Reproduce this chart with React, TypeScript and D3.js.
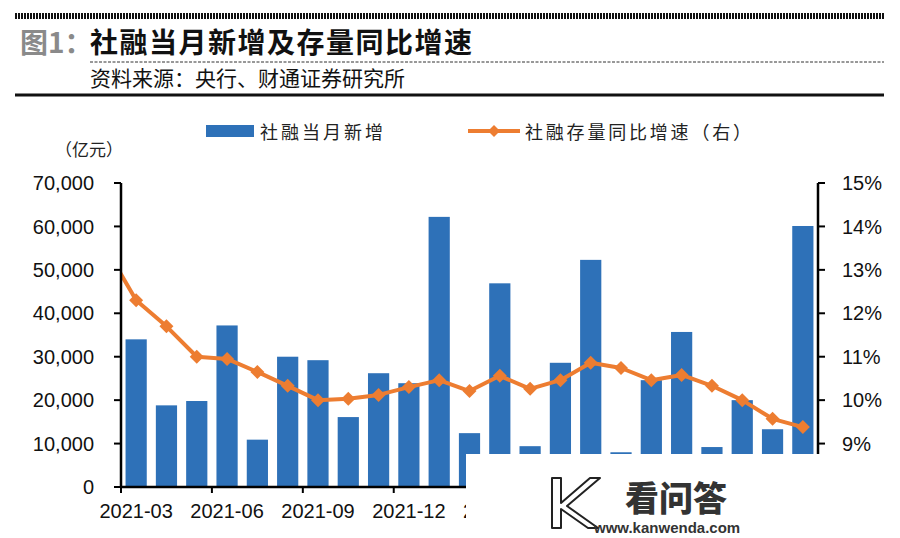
import React from "react";
import * as d3 from "d3";

const months = [
  "2021-03", "2021-04", "2021-05", "2021-06", "2021-07", "2021-08", "2021-09", "2021-10",
  "2021-11", "2021-12", "2022-01", "2022-02", "2022-03", "2022-04", "2022-05", "2022-06",
  "2022-07", "2022-08", "2022-09", "2022-10", "2022-11", "2022-12", "2023-01",
];
// 社融当月新增 (亿元)
const newFinancing = [
  34000, 18800, 19800, 37200, 10900, 30000, 29200, 16100, 26200, 23900, 62200, 12400,
  46900, 9400, 28600, 52300, 8000, 24600, 35700, 9200, 20000, 13300, 60100,
];
// 社融存量同比增速 (%), preceded by the clipped prior month 2021-02
const priorMonthGrowth = 13.5;
const stockGrowth = [
  12.3, 11.7, 11.0, 10.95, 10.65, 10.33, 10.0, 10.03, 10.12, 10.3, 10.46, 10.21,
  10.56, 10.26, 10.46, 10.86, 10.74, 10.46, 10.58, 10.33, 10.0, 9.57, 9.38,
];
const leftTicks = [0, 10000, 20000, 30000, 40000, 50000, 60000, 70000];
const rightTicks = [9, 10, 11, 12, 13, 14, 15];

const BLUE = "#2e71b8";
const ORANGE = "#ed7d31";
const CJK = "'Noto Sans CJK SC', sans-serif";
const LATIN = "'Liberation Sans', Arial, sans-serif";

export default function App() {
  const W = 900, H = 538;
  const x0 = 121, x1 = 818, yTop = 183, yBot = 487;
  const wmX = 466, wmY = 454;

  const xBand = d3.scaleBand<string>().domain(months).range([x0, x1]).paddingInner(0.3).paddingOuter(0.15);
  const step = xBand.step();
  const xCenter = (i: number) => x0 + step * (i + 0.5);
  const yL = d3.scaleLinear().domain([0, 70000]).range([yBot, yTop]);
  const yR = d3.scaleLinear().domain([8, 15]).range([yBot, yTop]);

  const linePts: [number, number][] = [[xCenter(-1), yR(priorMonthGrowth)]].concat(
    stockGrowth.map((v, i) => [xCenter(i), yR(v)] as [number, number])
  );
  const lineGen = d3.line();
  const fmt = d3.format(",");

  const diamond = (cx: number, cy: number, r: number) =>
    `M${cx},${cy - r}L${cx + r},${cy}L${cx},${cy + r}L${cx - r},${cy}Z`;

  const tickIdx = months.map((_, i) => i).filter((i) => i % 3 === 0);
  // labels whose left edge starts under the watermark are not visible
  const labelIdx = tickIdx.filter((i) => xCenter(i) - 37 < wmX);

  return (
    <svg width={W} height={H} style={{ position: "absolute", left: 0, top: 0, background: "#fff" }}>
      <defs>
        <clipPath id="plotClip">
          <rect x={x0} y={0} width={x1 - x0} height={H} />
        </clipPath>
      </defs>
      {/* header decorations */}
      <line x1={15} x2={884} y1={16} y2={16} stroke="#111" strokeWidth={6} strokeDasharray="2,1" />
      <text x={20} y={53} fontFamily={CJK} fontWeight={700} fontSize={28} fill="#8a8a8a">图1：</text>
      <text x={90} y={53} fontFamily={CJK} fontWeight={700} fontSize={28} letterSpacing={1.5} fill="#111">
        社融当月新增及存量同比增速
      </text>
      <line x1={90} x2={884} y1={62} y2={62} stroke="#333" strokeWidth={1} strokeDasharray="3,1.5" />
      <text x={90} y={86} fontFamily={CJK} fontSize={21} fill="#111">资料来源：央行、财通证券研究所</text>
      <line x1={15} x2={884} y1={95} y2={95} stroke="#111" strokeWidth={3} />

      {/* legend */}
      <rect x={206} y={125} width={48} height={12} fill={BLUE} />
      <text x={260} y={139} fontFamily={CJK} fontSize={18} letterSpacing={3} fill="#222">社融当月新增</text>
      <line x1={468} x2={520} y1={131} y2={131} stroke={ORANGE} strokeWidth={4} />
      <path d={diamond(494, 131, 6)} fill={ORANGE} />
      <text x={525} y={139} fontFamily={CJK} fontSize={18} letterSpacing={2.8} fill="#222">社融存量同比增速（右）</text>

      <text x={55} y={156} fontFamily={CJK} fontSize={17} fill="#222">（亿元）</text>

      {/* bars */}
      {newFinancing.map((v, i) => (
        <rect key={i} x={xBand(months[i])} y={yL(v)} width={xBand.bandwidth()} height={yBot - yL(v)} fill={BLUE} />
      ))}

      {/* line */}
      <g clipPath="url(#plotClip)">
        <path d={lineGen(linePts) || ""} fill="none" stroke={ORANGE} strokeWidth={4} strokeLinejoin="round" />
        {linePts.map(([cx, cy], i) => (
          <path key={i} d={diamond(cx, cy, 7)} fill={ORANGE} />
        ))}
      </g>

      {/* left axis */}
      <line x1={x0} x2={x0} y1={yTop} y2={yBot + 1} stroke="#000" strokeWidth={2.5} />
      {leftTicks.map((t) => (
        <g key={t}>
          <line x1={x0 - 7} x2={x0} y1={yL(t)} y2={yL(t)} stroke="#000" strokeWidth={2} />
          <text x={94} y={yL(t)} dy="0.36em" textAnchor="end" fontFamily={LATIN} fontSize={20} fill="#111">
            {fmt(t)}
          </text>
        </g>
      ))}

      {/* right axis */}
      <line x1={x1} x2={x1} y1={yTop} y2={yBot + 1} stroke="#000" strokeWidth={2.5} />
      {rightTicks.map((t) => (
        <g key={t}>
          <line x1={x1} x2={x1 + 7} y1={yR(t)} y2={yR(t)} stroke="#000" strokeWidth={2} />
          <text x={842} y={yR(t)} dy="0.36em" fontFamily={LATIN} fontSize={20} fill="#111">
            {t}%
          </text>
        </g>
      ))}

      {/* x axis */}
      <line x1={x0 - 1} x2={x1 + 1} y1={yBot} y2={yBot} stroke="#000" strokeWidth={2.5} />
      {tickIdx.map((i) => {
        const left = x0 + step * i;
        return <line key={i} x1={left} x2={left} y1={yBot} y2={yBot + 6} stroke="#000" strokeWidth={2} />;
      })}
      {labelIdx.map((i) => (
        <text key={i} x={xCenter(i)} y={518} textAnchor="middle" fontFamily={LATIN} fontSize={20} fill="#111">
          {months[i]}
        </text>
      ))}

      {/* watermark overlay */}
      <rect x={wmX} y={wmY} width={W - wmX} height={H - wmY} fill="#fff" />
      <g fill="#fff" stroke="#222" strokeWidth={2} strokeLinejoin="round">
        <path d="M552,478 L561,478 L561,503 L590,478 L600,478 L567,506 L598,528 L588,528 L561,509 L561,528 L552,528 Z" />
      </g>
      <text x={625} y={511} fontFamily={CJK} fontWeight={900} fontSize={34} fill="#333">看问答</text>
      <text x={594} y={533} fontFamily={LATIN} fontWeight={700} fontSize={15} fill="#333">www.kanwenda.com</text>
    </svg>
  );
}
